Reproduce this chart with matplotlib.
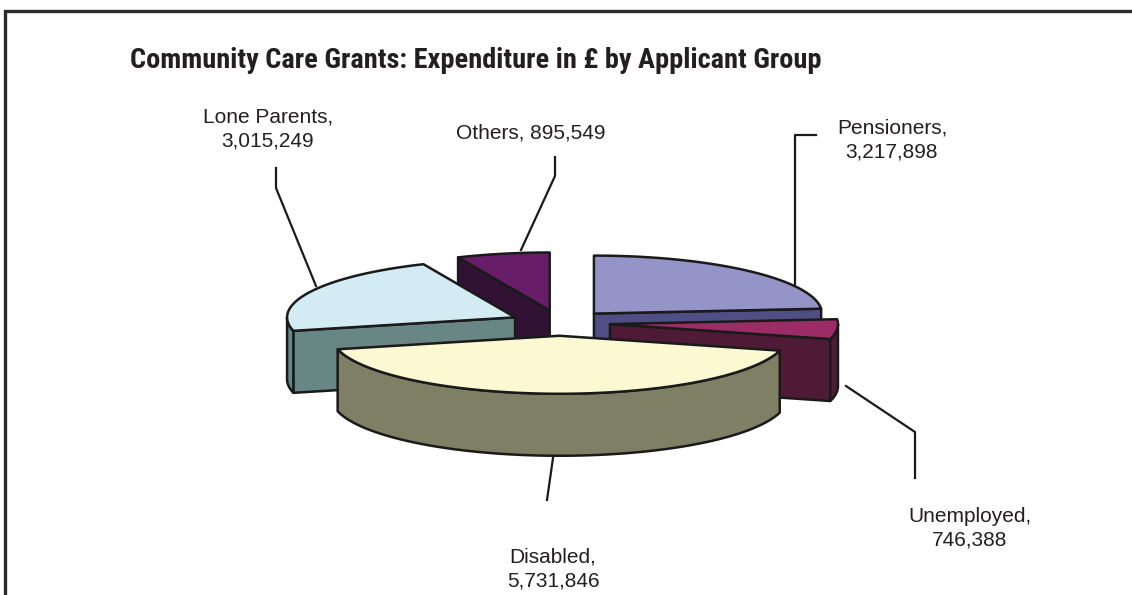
import numpy as np
import matplotlib
matplotlib.use("Agg")
import matplotlib.pyplot as plt
from matplotlib import font_manager
from matplotlib.patches import Polygon

# data (Community Care Grants, expenditure in GBP)
groups = ["Pensioners", "Unemployed", "Disabled", "Lone Parents", "Others"]
spend = [3217898, 746388, 5731846, 3015249, 895549]
top_colors = ["#9494c8", "#9c2c66", "#fbf8d2", "#d3ecf3", "#671d68"]
side_colors = ["#4f4f86", "#4e1a35", "#7f7f66", "#688684", "#321234"]

title = "Community Care Grants: Expenditure in \u00a3 by Applicant Group"

# label layout: text centre and leader path (pixel coords)
label_pos = {
    "Pensioners": (892, 140),
    "Unemployed": (970, 528),
    "Disabled": (553, 569),
    "Lone Parents": (268, 129),
    "Others": (531, 133),
}
leaders = {
    "Pensioners": [(816, 135), (795, 135), (795, 284)],
    "Unemployed": [(846, 386), (915, 432), (915, 478)],
    "Disabled": [(553, 458), (547, 500)],
    "Lone Parents": [(276, 168), (276, 188), (316, 286)],
    "Others": [(555, 157), (555, 176), (521, 250)],
}

# pie geometry
CX, CY = 560, 323
RX, RY = 228, 58
DEPTH = 62
EXPLODE = 0.22

W, H = 1132, 595
fig = plt.figure(figsize=(W / 100, H / 100), dpi=100)
ax = fig.add_axes([0, 0, 1, 1])
ax.set_xlim(0, W)
ax.set_ylim(H, 0)
ax.axis("off")

# frame
ax.plot([5, 5, W], [H, 11, 11], color="#2b2b2b", lw=2.4, solid_capstyle="butt",
        solid_joinstyle="miter")

# title in a narrow bold face if one is installed
names = {f.name for f in font_manager.fontManager.ttflist}
title_font = next((n for n in ["Liberation Sans Narrow", "Roboto Condensed",
                               "Open Sans Condensed", "Noto Sans Condensed"] if n in names),
                  "Liberation Sans")
t = ax.text(476, 61, title, ha="center", va="center", fontsize=16, fontweight="bold",
            family=title_font, fontstretch="condensed", color="#231f20")
w = t.get_window_extent(fig.canvas.get_renderer()).width
t.set_fontsize(16 * 692 / w)

vals = np.array(spend, dtype=float)
angles = np.concatenate([[0], np.cumsum(vals / vals.sum() * 360)])


def rim(apex, b):
    r = np.deg2rad(b)
    return np.column_stack([apex[0] + RX * np.sin(r), apex[1] - RY * np.cos(r)])


slices = []
for i in range(len(vals)):
    b1, b2 = angles[i], angles[i + 1]
    bm = np.deg2rad((b1 + b2) / 2)
    apex = (CX + EXPLODE * RX * np.sin(bm), CY - EXPLODE * RY * np.cos(bm))
    slices.append((apex[1], i, b1, b2, apex))

edge = dict(edgecolor="#1a1a1a", linewidth=1.8, joinstyle="round")

# back to front
for _, i, b1, b2, apex in sorted(slices):
    ap = np.array(apex)
    # radial cut faces
    for b, vis in ((b1, np.sin(np.deg2rad(b1)) < -1e-6), (b2, np.sin(np.deg2rad(b2)) > 1e-6)):
        if vis:
            p = rim(apex, [b])[0]
            quad = [ap, p, p + [0, DEPTH], ap + [0, DEPTH]]
            ax.add_patch(Polygon(quad, closed=True, facecolor=side_colors[i], **edge))
    # outer wall, front part only
    lo, hi = max(b1, 90), min(b2, 270)
    if hi > lo:
        bs = np.linspace(lo, hi, 80)
        top = rim(apex, bs)
        bot = top + [0, DEPTH]
        ax.add_patch(Polygon(np.vstack([top, bot[::-1]]), closed=True,
                             facecolor=side_colors[i], **edge))
    # top face
    bs = np.linspace(b1, b2, 120)
    face = np.vstack([[ap], rim(apex, bs)])
    ax.add_patch(Polygon(face, closed=True, facecolor=top_colors[i], **edge))

# labels and leader lines
for name, v in zip(groups, spend):
    if name == "Others":
        txt = f"{name}, {v:,}"
    else:
        txt = f"{name},\n{v:,}"
    x, y = label_pos[name]
    ax.text(x, y, txt, ha="center", va="center", fontsize=15, linespacing=1.3,
            family=["Liberation Sans", "DejaVu Sans"], color="#231f20")
    pts = np.array(leaders[name])
    ax.plot(pts[:, 0], pts[:, 1], color="#1a1a1a", lw=1.6)

fig.savefig("out.png", dpi=100)
